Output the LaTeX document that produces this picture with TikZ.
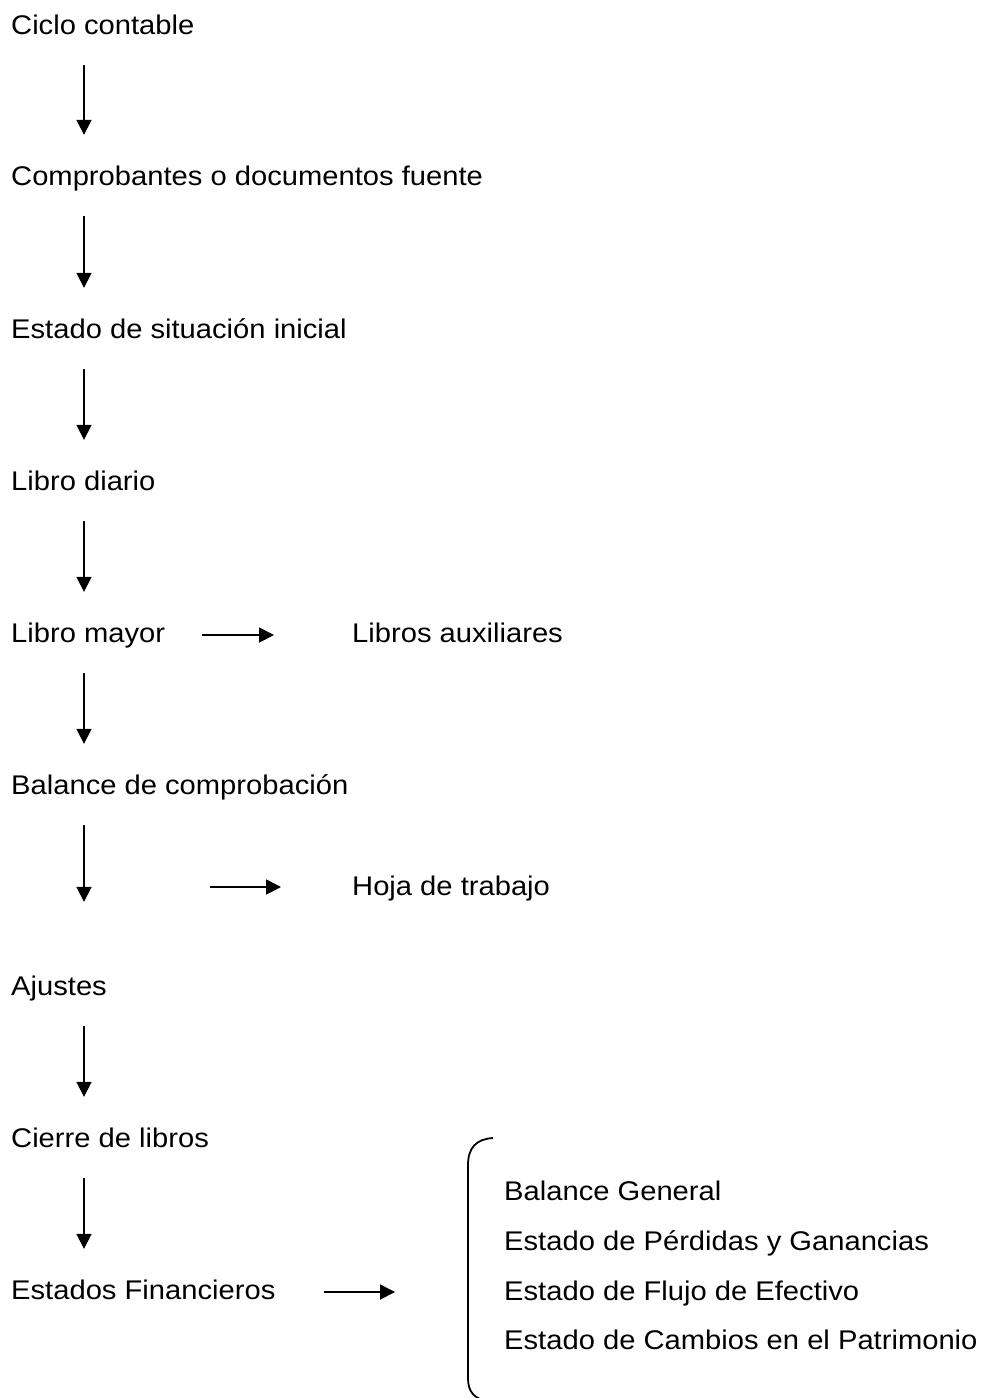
\documentclass[tikz,border=0pt]{standalone}
\usepackage{fontspec}
\setmainfont{Liberation Sans}[FakeStretch=1.08]
\usetikzlibrary{arrows.meta}

\begin{document}
\begin{tikzpicture}[x=1pt, y=-1pt, paso/.style={anchor=base west, inner sep=0pt, text height=20pt, text depth=6pt, font=\fontsize{27}{32}\selectfont}, flecha/.style={line width=1.8pt, -{Triangle[length=15pt, width=15pt]}}, baja/.style={flecha, shorten <=25pt, shorten >=30pt}]
\useasboundingbox (0,0) rectangle (988,1398);
\coordinate (eje) at (84,0);
\node[paso] (ciclo) at (11,34) {Ciclo contable};
\node[paso] (comp) at (11,185) {Comprobantes o documentos fuente};
\node[paso] (inicial) at (11,338) {Estado de situación inicial};
\node[paso] (diario) at (11,490) {Libro diario};
\node[paso] (mayor) at (11,642) {Libro mayor};
\node[paso] (aux) at (352,642) {Libros auxiliares};
\node[paso] (balance) at (11,794) {Balance de comprobación};
\node[paso] (hoja) at (352,895) {Hoja de trabajo};
\node[paso] (ajustes) at (11,995) {Ajustes};
\node[paso] (cierre) at (11,1147) {Cierre de libros};
\node[paso] (estf) at (11,1299) {Estados Financieros};
\node[paso] (general) at (504,1200) {Balance General};
\node[paso] (perdidas) at (504,1250) {Estado de Pérdidas y Ganancias};
\node[paso] (flujo) at (504,1300) {Estado de Flujo de Efectivo};
\node[paso] (cambios) at (504,1349) {Estado de Cambios en el Patrimonio};
\draw[baja] (ciclo.south -| eje) -- (comp.north -| eje);
\draw[baja] (comp.south -| eje) -- (inicial.north -| eje);
\draw[baja] (inicial.south -| eje) -- (diario.north -| eje);
\draw[baja] (diario.south -| eje) -- (mayor.north -| eje);
\draw[baja] (mayor.south -| eje) -- (balance.north -| eje);
\draw[baja, shorten >=73pt] (balance.south -| eje) -- (ajustes.north -| eje);
\draw[baja] (ajustes.south -| eje) -- (cierre.north -| eje);
\draw[baja] (cierre.south -| eje) -- (estf.north -| eje);
\draw[flecha, shorten <=37pt, shorten >=78pt] (mayor.east) -- (aux.west);
\coordinate (inihoja) at (210,887);
\draw[flecha, shorten >=71pt] (inihoja) -- (inihoja -| hoja.west);
\coordinate (llave) at (468,1292);
\draw[flecha, shorten <=48pt, shorten >=73pt] (estf.east) -- (estf.east -| llave);
\draw[line width=1.8pt] (493,1138) .. controls (476,1139) and (468,1148) .. (468,1165) -- (468,1378) .. controls (468,1392) and (474,1399) .. (490,1402);
\end{tikzpicture}
\end{document}
